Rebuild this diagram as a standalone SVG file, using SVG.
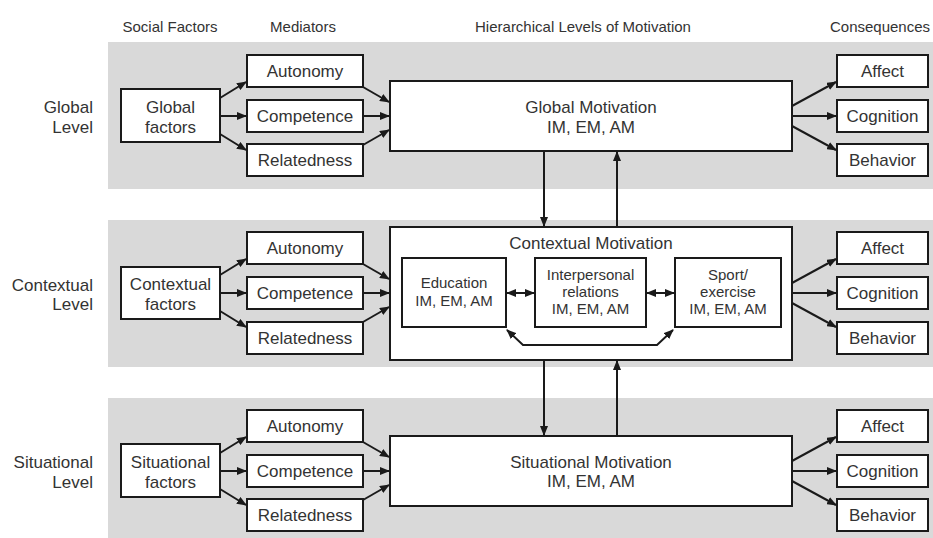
<svg xmlns="http://www.w3.org/2000/svg" width="933" height="538" viewBox="0 0 933 538">
<style>
text{font-family:"Liberation Sans",Arial,sans-serif;fill:#333;text-anchor:middle}
.hd{font-size:15px}
.lv{font-size:17px;text-anchor:end}
.t{font-size:17px}
.s{font-size:15px}
.band{fill:#d9d9d9}
.box{fill:#fff;stroke:#1a1a1a;stroke-width:2}
.c{fill:none;stroke:#1a1a1a;stroke-width:2;marker-end:url(#ah)}
.d{fill:none;stroke:#1a1a1a;stroke-width:2;marker-end:url(#ah);marker-start:url(#ah)}
</style>
<defs>
<marker id="ah" viewBox="0 0 10 8" refX="9" refY="4" markerWidth="10" markerHeight="8" orient="auto-start-reverse" markerUnits="userSpaceOnUse"><path d="M0,0 L10,4 L0,8 z" fill="#1a1a1a"/></marker>
</defs>
<rect width="933" height="538" fill="#fff"/>
<g id="bands">
<rect class="band" x="108" y="42" width="825" height="147"/>
<rect class="band" x="108" y="220" width="825" height="147"/>
<rect class="band" x="108" y="398" width="825" height="140"/>
</g>
<g id="headers">
<text class="hd" x="170" y="32">Social Factors</text>
<text class="hd" x="303" y="32">Mediators</text>
<text class="hd" x="583" y="32">Hierarchical Levels of Motivation</text>
<text class="hd" x="880" y="32">Consequences</text>
</g>
<g id="levels">
<text class="lv" x="93" y="113">Global</text><text class="lv" x="93" y="133">Level</text>
<text class="lv" x="93" y="291">Contextual</text><text class="lv" x="93" y="310">Level</text>
<text class="lv" x="93" y="468">Situational</text><text class="lv" x="93" y="488">Level</text>
</g>
<!-- Global row -->
<g id="global-factors"><rect class="box" x="121" y="89" width="99" height="53"/><text class="t" x="170.5" y="113">Global</text><text class="t" x="170.5" y="133">factors</text></g>
<g id="global-autonomy"><rect class="box" x="247" y="55" width="116" height="32"/><text class="t" x="305" y="77">Autonomy</text></g>
<g id="global-competence"><rect class="box" x="247" y="100" width="116" height="32"/><text class="t" x="305" y="122">Competence</text></g>
<g id="global-relatedness"><rect class="box" x="247" y="144" width="116" height="32"/><text class="t" x="305" y="166">Relatedness</text></g>
<g id="global-motivation"><rect class="box" x="390" y="81" width="402" height="70"/><text class="t" x="591" y="113">Global Motivation</text><text class="t" x="591" y="133">IM, EM, AM</text></g>
<g id="global-affect"><rect class="box" x="837" y="55" width="91" height="32"/><text class="t" x="882.5" y="77">Affect</text></g>
<g id="global-cognition"><rect class="box" x="837" y="100" width="91" height="32"/><text class="t" x="882.5" y="122">Cognition</text></g>
<g id="global-behavior"><rect class="box" x="837" y="144" width="91" height="32"/><text class="t" x="882.5" y="166">Behavior</text></g>
<!-- Contextual row -->
<g id="contextual-factors"><rect class="box" x="121" y="267" width="99" height="52"/><text class="t" x="170.5" y="290">Contextual</text><text class="t" x="170.5" y="310">factors</text></g>
<g id="contextual-autonomy"><rect class="box" x="247" y="232" width="116" height="32"/><text class="t" x="305" y="254">Autonomy</text></g>
<g id="contextual-competence"><rect class="box" x="247" y="277" width="116" height="32"/><text class="t" x="305" y="299">Competence</text></g>
<g id="contextual-relatedness"><rect class="box" x="247" y="322" width="116" height="32"/><text class="t" x="305" y="344">Relatedness</text></g>
<g id="contextual-motivation"><rect class="box" x="390" y="227" width="402" height="133"/><text class="t" x="591" y="249">Contextual Motivation</text></g>
<g id="education"><rect class="box" x="402" y="258" width="104" height="69"/><text class="s" x="454" y="288">Education</text><text class="s" x="454" y="306">IM, EM, AM</text></g>
<g id="interpersonal"><rect class="box" x="535" y="258" width="111" height="69"/><text class="s" x="590.5" y="280">Interpersonal</text><text class="s" x="590.5" y="297">relations</text><text class="s" x="590.5" y="314">IM, EM, AM</text></g>
<g id="sport"><rect class="box" x="675" y="258" width="106" height="69"/><text class="s" x="728" y="280">Sport/</text><text class="s" x="728" y="297">exercise</text><text class="s" x="728" y="314">IM, EM, AM</text></g>
<g id="contextual-affect"><rect class="box" x="837" y="232" width="91" height="32"/><text class="t" x="882.5" y="254">Affect</text></g>
<g id="contextual-cognition"><rect class="box" x="837" y="277" width="91" height="32"/><text class="t" x="882.5" y="299">Cognition</text></g>
<g id="contextual-behavior"><rect class="box" x="837" y="322" width="91" height="32"/><text class="t" x="882.5" y="344">Behavior</text></g>
<!-- Situational row -->
<g id="situational-factors"><rect class="box" x="121" y="444" width="99" height="53"/><text class="t" x="170.5" y="468">Situational</text><text class="t" x="170.5" y="488">factors</text></g>
<g id="situational-autonomy"><rect class="box" x="247" y="410" width="116" height="32"/><text class="t" x="305" y="432">Autonomy</text></g>
<g id="situational-competence"><rect class="box" x="247" y="455" width="116" height="32"/><text class="t" x="305" y="477">Competence</text></g>
<g id="situational-relatedness"><rect class="box" x="247" y="499" width="116" height="32"/><text class="t" x="305" y="521">Relatedness</text></g>
<g id="situational-motivation"><rect class="box" x="390" y="436" width="402" height="70"/><text class="t" x="591" y="468">Situational Motivation</text><text class="t" x="591" y="487">IM, EM, AM</text></g>
<g id="situational-affect"><rect class="box" x="837" y="410" width="91" height="32"/><text class="t" x="882.5" y="432">Affect</text></g>
<g id="situational-cognition"><rect class="box" x="837" y="455" width="91" height="32"/><text class="t" x="882.5" y="477">Cognition</text></g>
<g id="situational-behavior"><rect class="box" x="837" y="499" width="91" height="32"/><text class="t" x="882.5" y="521">Behavior</text></g>
<g id="connectors">
<!-- global -->
<path class="c" d="M220,98 L246,82"/>
<path class="c" d="M220,116 L246,116"/>
<path class="c" d="M220,134 L246,150"/>
<path class="c" d="M363,87 L389,102"/>
<path class="c" d="M363,116 L389,116"/>
<path class="c" d="M363,145 L389,130"/>
<path class="c" d="M792,106 L836,82"/>
<path class="c" d="M792,116 L836,116"/>
<path class="c" d="M792,126 L836,150"/>
<!-- contextual -->
<path class="c" d="M220,275 L246,259"/>
<path class="c" d="M220,293 L246,293"/>
<path class="c" d="M220,311 L246,327"/>
<path class="c" d="M363,264 L389,279"/>
<path class="c" d="M363,293 L389,293"/>
<path class="c" d="M363,322 L389,307"/>
<path class="c" d="M792,283 L836,259"/>
<path class="c" d="M792,293 L836,293"/>
<path class="c" d="M792,303 L836,327"/>
<path class="d" d="M507,293 L534,293"/>
<path class="d" d="M647,293 L674,293"/>
<path class="d" d="M507,330 L523,345 L657,345 L673,330"/>
<!-- situational -->
<path class="c" d="M220,453 L246,437"/>
<path class="c" d="M220,471 L246,471"/>
<path class="c" d="M220,489 L246,505"/>
<path class="c" d="M363,442 L389,457"/>
<path class="c" d="M363,471 L389,471"/>
<path class="c" d="M363,500 L389,485"/>
<path class="c" d="M792,461 L836,437"/>
<path class="c" d="M792,471 L836,471"/>
<path class="c" d="M792,481 L836,505"/>
<!-- vertical -->
<path class="c" d="M544,151 L544,226"/>
<path class="c" d="M617,227 L617,152"/>
<path class="c" d="M544,360 L544,435"/>
<path class="c" d="M617,436 L617,361"/>
</g>
</svg>
